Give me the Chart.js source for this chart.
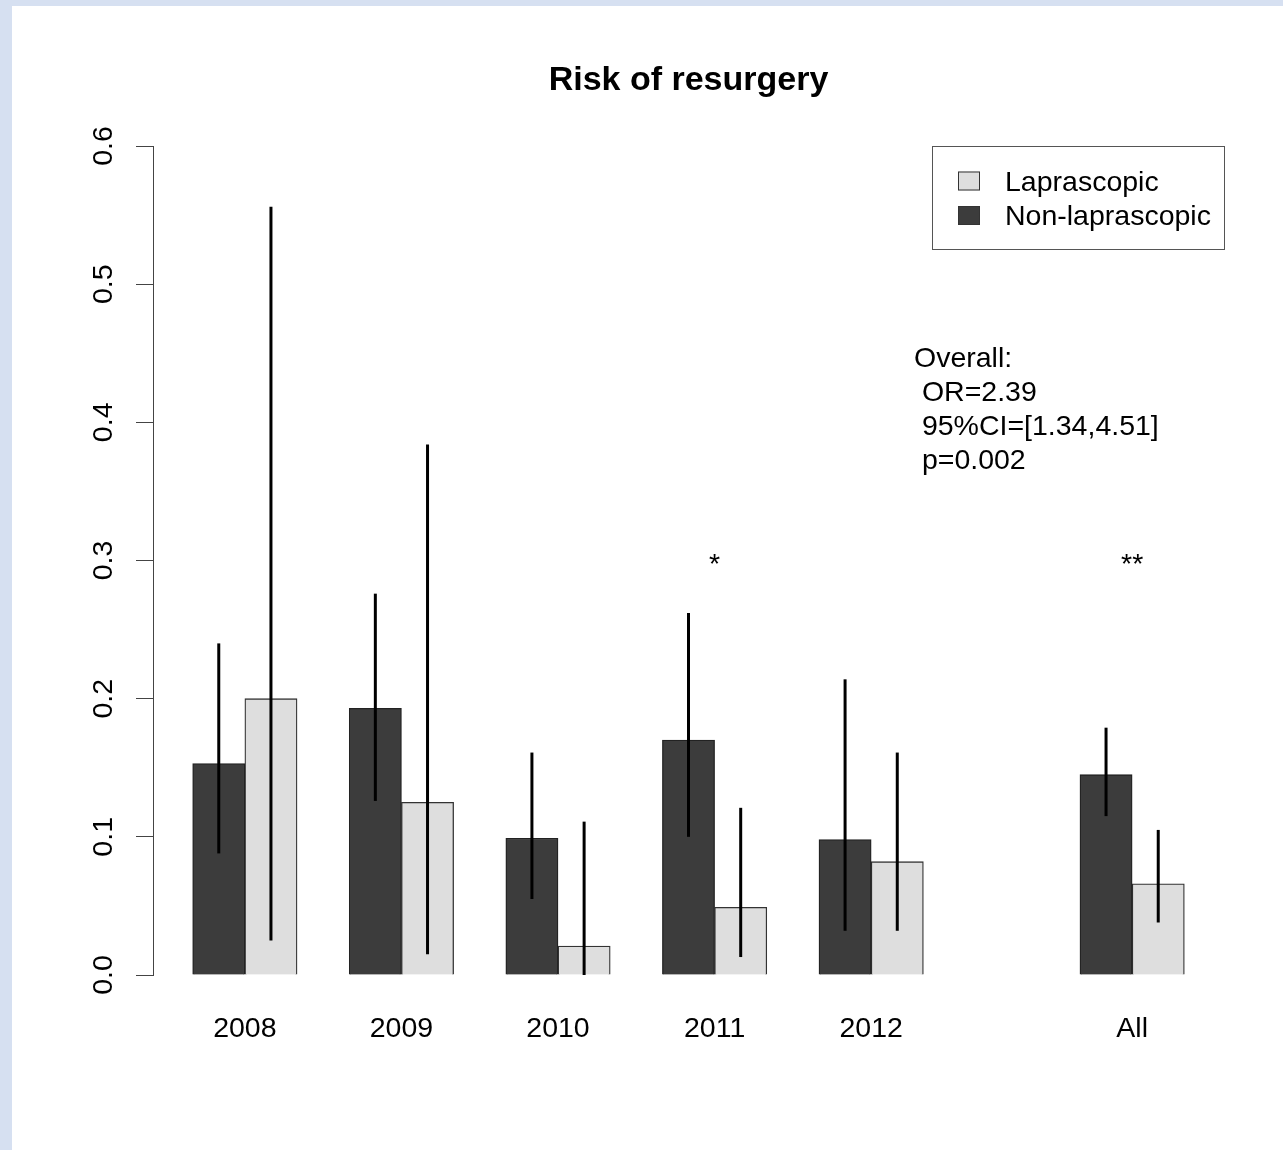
<!DOCTYPE html>
<html>
<head>
<meta charset="utf-8">
<script src="https://cdn.jsdelivr.net/npm/chart.js@4/dist/chart.umd.min.js"></script>
<style>
  html, body { margin: 0; padding: 0; background: #d6e0f1; width: 1283px; height: 1150px; overflow: hidden; }
  #wrap { position: absolute; left: 12px; top: 6px; width: 1271px; height: 1144px; background: #ffffff; }
  canvas { display: block; }
</style>
</head>
<body>
<div id="wrap"><canvas id="c" width="1271" height="1144"></canvas></div>
<script>
// ---- data ----
const categories   = ['2008', '2009', '2010', '2011', '2012', 'All'];
const nonLap       = [0.153, 0.193, 0.099, 0.170, 0.098, 0.145];
const nonLapLow    = [0.088, 0.126, 0.055, 0.100, 0.032, 0.115];
const nonLapHigh   = [0.240, 0.276, 0.161, 0.262, 0.214, 0.179];
const lap          = [0.200, 0.125, 0.021, 0.049, 0.082, 0.066];
const lapLow       = [0.025, 0.015, 0.000, 0.013, 0.032, 0.038];
const lapHigh      = [0.556, 0.384, 0.111, 0.121, 0.161, 0.105];
const significance = ['', '', '', '*', '', '**'];
const yTickValues  = [0, 0.1, 0.2, 0.3, 0.4, 0.5, 0.6];
const seriesNames  = ['Non-laprascopic', 'Laprascopic'];
const overallText  = ['Overall:', ' OR=2.39', ' 95%CI=[1.34,4.51]', ' p=0.002'];
const titleText    = 'Risk of resurgery';

// ---- layout ----
const FONT = '"Liberation Sans", Arial, Helvetica, sans-serif';
const FS = 28.5;
const W = 1271, H = 1144;
const AXIS_W = 141, XAXIS_H = 175, PAD_R = 59;
const plotW = W - AXIS_W - PAD_R;
const xMin = -1.76, xMax = 18.76;
const barPx = plotW / (xMax - xMin);
const groupPos = i => i * 3 + (categories[i] === 'All' ? 2 : 0);
const DARK = '#3c3c3c', LIGHT = '#dedede';

const pts = arr => arr.map((v, i) => ({ x: groupPos(i), y: v }));

const overlay = {
  id: 'overlay',
  afterDatasetsDraw(chart) {
    const ctx = chart.ctx;
    const ys = chart.scales.y, xs = chart.scales.x;
    const area = chart.chartArea;
    ctx.save();
    // error bars
    const lows = [nonLapLow, lapLow], highs = [nonLapHigh, lapHigh];
    ctx.strokeStyle = '#000';
    ctx.lineWidth = 3;
    ctx.lineCap = 'butt';
    [0, 1].forEach(d => {
      chart.getDatasetMeta(d).data.forEach((bar, i) => {
        ctx.beginPath();
        ctx.moveTo(bar.x, ys.getPixelForValue(lows[d][i]));
        ctx.lineTo(bar.x, ys.getPixelForValue(highs[d][i]));
        ctx.stroke();
      });
    });
    // significance stars
    ctx.fillStyle = '#000';
    ctx.font = FS + 'px ' + FONT;
    ctx.textAlign = 'center';
    ctx.textBaseline = 'alphabetic';
    significance.forEach((s, i) => {
      if (!s) return;
      ctx.fillText(s, xs.getPixelForValue(groupPos(i)), ys.getPixelForValue(0.3) + 12.5);
    });
    // overall annotation
    ctx.textAlign = 'left';
    ctx.textBaseline = 'middle';
    const ox = xs.getPixelForValue(12.82), oy = ys.getPixelForValue(0.446);
    overallText.forEach((t, k) => ctx.fillText(t, ox, oy + k * 34));
    // legend box
    const bw = 292, bh = 103;
    const bx = area.right - bw, by = area.top;
    ctx.strokeStyle = '#555';
    ctx.lineWidth = 1;
    ctx.strokeRect(bx + 0.5, by + 0.5, bw, bh);
    const entries = [[seriesNames[1], LIGHT, 35, 37], [seriesNames[0], DARK, 69.5, 71.5]];
    entries.forEach(([name, col, cy, ty]) => {
      ctx.fillStyle = col;
      ctx.fillRect(bx + 26, by + cy - 9.5, 22, 19);
      ctx.strokeStyle = '#333';
      ctx.strokeRect(bx + 26.5, by + cy - 9, 21, 18);
      ctx.fillStyle = '#000';
      ctx.fillText(name, bx + 73, by + ty);
    });
    ctx.restore();
  }
};

new Chart(document.getElementById('c'), {
  type: 'bar',
  data: {
    datasets: [
      { label: seriesNames[0], data: pts(nonLap), backgroundColor: DARK, borderColor: '#222', borderWidth: 1.3, barThickness: barPx },
      { label: seriesNames[1], data: pts(lap), backgroundColor: LIGHT, borderColor: '#333', borderWidth: 1.3, barThickness: barPx }
    ]
  },
  options: {
    responsive: false,
    animation: false,
    devicePixelRatio: 1,
    layout: { padding: { left: 0, right: PAD_R, top: 0, bottom: 0 } },
    plugins: {
      legend: { display: false },
      tooltip: { enabled: false },
      title: {
        display: true, text: titleText, fullSize: false, color: '#000',
        font: { family: FONT, size: 34, weight: 'bold' },
        padding: { top: 54.6, bottom: 44.6 }
      }
    },
    scales: {
      x: {
        type: 'linear', min: xMin, max: xMax, offset: false,
        grid: { display: false, drawTicks: false },
        border: { display: false },
        afterBuildTicks: s => { s.ticks = categories.map((c, i) => ({ value: groupPos(i) })); },
        afterFit: s => { s.height = XAXIS_H; },
        ticks: {
          autoSkip: false, maxRotation: 0, minRotation: 0, padding: 37, color: '#000',
          font: { family: FONT, size: FS },
          callback: (v, i) => categories[i]
        }
      },
      y: {
        type: 'linear', min: 0, max: 0.6,
        afterBuildTicks: s => { s.ticks = yTickValues.map(v => ({ value: v })); },
        afterFit: s => { s.width = AXIS_W; },
        grid: { drawOnChartArea: false, drawTicks: true, tickLength: 17, color: '#444', lineWidth: 1 },
        border: { display: true, color: '#444', width: 1 },
        ticks: {
          minRotation: 90, maxRotation: 90, crossAlign: 'center', padding: 12, color: '#000',
          font: { family: FONT, size: FS },
          callback: v => v.toFixed(1)
        }
      }
    }
  },
  plugins: [overlay]
});
</script>
</body>
</html>
